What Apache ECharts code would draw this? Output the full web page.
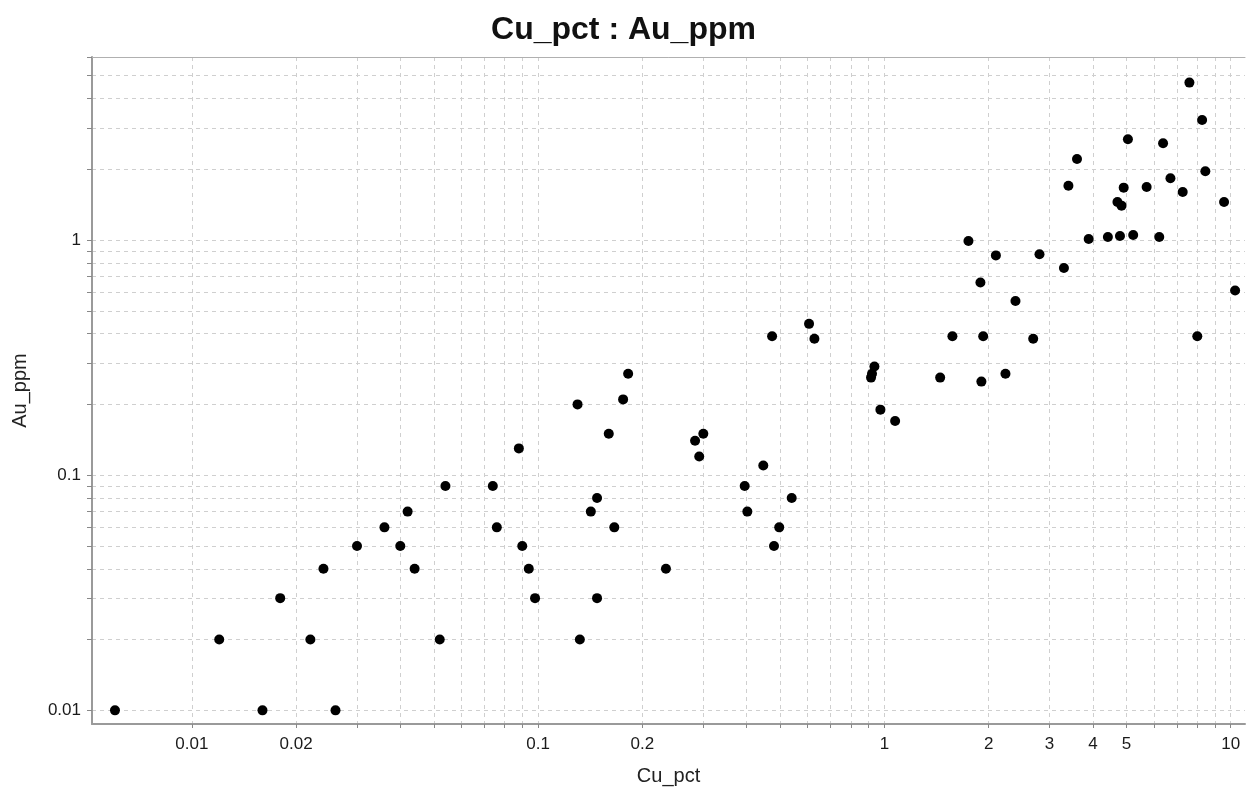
<!DOCTYPE html>
<html>
<head>
<meta charset="utf-8">
<script src="https://cdn.jsdelivr.net/npm/echarts@6/dist/echarts.min.js"></script>
<style>
html,body{margin:0;padding:0;background:#fff;}
#chart{width:1247px;height:791px;}
</style>
</head>
<body>
<div id="chart"></div>
<script>
// Data (Cu_pct, Au_ppm)
var cuPct = [
  0.006, 0.012, 0.016, 0.018, 0.022, 0.024, 0.026, 0.030, 0.036, 0.040,
  0.042, 0.044, 0.052, 0.054, 0.074, 0.076, 0.088, 0.090, 0.094, 0.098,
  0.130, 0.132, 0.142, 0.148, 0.148, 0.160, 0.166, 0.176, 0.182, 0.234,
  0.284, 0.292, 0.300, 0.395, 0.402, 0.447, 0.474, 0.480, 0.497, 0.540,
  0.606, 0.628, 0.915, 0.921, 0.936, 0.974, 1.074, 1.449, 1.572, 1.749,
  1.894, 1.929, 1.906, 2.099, 2.237, 2.391, 2.690, 2.805, 3.30, 3.40,
  3.60, 3.89, 4.42, 4.71, 4.79, 4.84, 4.91, 5.05, 5.23, 5.72,
  6.22, 6.38, 6.70, 7.27, 7.60, 8.01, 8.27, 8.45, 9.57, 10.3
];
var auPpm = [
  0.01, 0.02, 0.01, 0.03, 0.02, 0.04, 0.01, 0.05, 0.06, 0.05,
  0.07, 0.04, 0.02, 0.09, 0.09, 0.06, 0.13, 0.05, 0.04, 0.03,
  0.20, 0.02, 0.07, 0.08, 0.03, 0.15, 0.06, 0.21, 0.27, 0.04,
  0.14, 0.12, 0.15, 0.09, 0.07, 0.11, 0.39, 0.05, 0.06, 0.08,
  0.44, 0.38, 0.26, 0.27, 0.29, 0.19, 0.17, 0.26, 0.39, 0.99,
  0.66, 0.39, 0.25, 0.86, 0.27, 0.55, 0.38, 0.87, 0.76, 1.70,
  2.21, 1.01, 1.03, 1.45, 1.04, 1.40, 1.67, 2.68, 1.05, 1.68,
  1.03, 2.58, 1.83, 1.60, 4.67, 0.39, 3.24, 1.96, 1.45, 0.61
];

// Axis tick / label values
var xTickValues = [0.01,0.02,0.03,0.04,0.05,0.06,0.07,0.08,0.09,
                   0.1,0.2,0.3,0.4,0.5,0.6,0.7,0.8,0.9,
                   1,2,3,4,5,6,7,8,9,10];
var xLabelValues = [0.01,0.02,0.1,0.2,1,2,3,4,5,10];
var yTickValues = [0.01,0.02,0.03,0.04,0.05,0.06,0.07,0.08,0.09,
                   0.1,0.2,0.3,0.4,0.5,0.6,0.7,0.8,0.9,
                   1,2,3,4,5,6];
var yLabelValues = [0.01,0.1,1];

var xRange = [0.00515, 11];
var yRange = [0.00875, 6];

var points = cuPct.map(function (c, i) { return [c, auPpm[i]]; });

function fmt(v) { return String(Number(Number(v).toPrecision(6))); }

var FONT = '"Liberation Sans", Arial, Helvetica, sans-serif';
var gridLine = { show: true, lineStyle: { color: '#cfcfcf', type: [4, 4], width: 1 } };

var chart = echarts.init(document.getElementById('chart'), null, { renderer: 'canvas' });
chart.setOption({
  animation: false,
  backgroundColor: '#ffffff',
  textStyle: { fontFamily: FONT },
  title: {
    text: 'Cu_pct : Au_ppm',
    left: 'center',
    top: 9,
    textStyle: { fontSize: 32, fontWeight: 'bold', color: '#111', fontFamily: FONT }
  },
  grid: { left: 92, right: 2, top: 57, bottom: 64 },
  xAxis: [{
    type: 'log',
    logBase: 10,
    min: xRange[0],
    max: xRange[1],
    name: 'Cu_pct',
    nameLocation: 'middle',
    nameGap: 42,
    nameTextStyle: { fontSize: 20, color: '#222', fontFamily: FONT },
    axisLine: { show: true, lineStyle: { color: '#9a9a9a', width: 2 } },
    axisTick: { show: true, customValues: xTickValues, length: 4, lineStyle: { color: '#888' } },
    axisLabel: { customValues: xLabelValues, formatter: fmt, fontSize: 17, color: '#1a1a1a', margin: 12, fontFamily: FONT },
    splitLine: gridLine,
    minorTick: { show: false },
    minorSplitLine: { show: false }
  }, {
    type: 'log',
    logBase: 10,
    position: 'top',
    min: xRange[0],
    max: xRange[1],
    axisLine: { show: true, lineStyle: { color: '#b0b0b0', width: 1 } },
    axisTick: { show: false },
    axisLabel: { show: false },
    splitLine: { show: false }
  }],
  yAxis: {
    type: 'log',
    logBase: 10,
    min: yRange[0],
    max: yRange[1],
    name: 'Au_ppm',
    nameLocation: 'middle',
    nameGap: 62,
    nameTextStyle: { fontSize: 20, color: '#222', fontFamily: FONT },
    axisLine: { show: true, lineStyle: { color: '#9a9a9a', width: 2 } },
    axisTick: { show: true, customValues: yTickValues, length: 5, lineStyle: { color: '#888' } },
    axisLabel: { customValues: yLabelValues, formatter: fmt, fontSize: 17, color: '#1a1a1a', margin: 11, fontFamily: FONT },
    splitLine: gridLine
  },
  series: [{
    type: 'scatter',
    xAxisIndex: 0,
    data: points,
    symbol: 'circle',
    symbolSize: 10,
    itemStyle: { color: '#000', opacity: 1 }
  }]
});
</script>
</body>
</html>
